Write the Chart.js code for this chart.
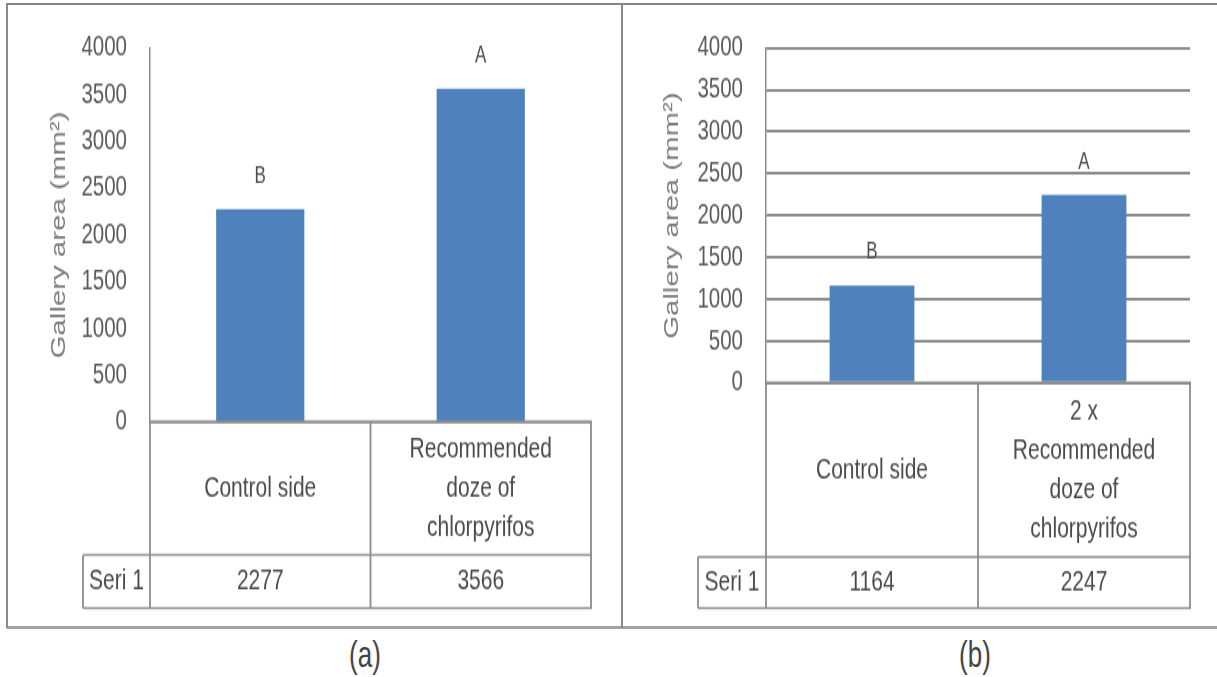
<!DOCTYPE html>
<html><head><meta charset="utf-8">
<script src="https://cdn.jsdelivr.net/npm/chart.js@4.4.1/dist/chart.umd.min.js"></script>
<style>
html,body{margin:0;padding:0;background:#fff;width:1217px;height:677px;overflow:hidden;position:relative}
.ln{position:absolute}
.wrap{position:absolute;top:5px;height:444px;transform:scaleY(1.4009);transform-origin:0 0}
.cap{position:absolute;top:632px;width:60px;text-align:center;font:26px "Liberation Sans",sans-serif;color:#454545;transform:scaleY(1.45);transform-origin:50% 0}
</style></head><body>
<div class="ln" style="left:7px;top:3px;width:1210px;height:2px;background:#858585"></div>
<div class="ln" style="left:7px;top:626px;width:1210px;height:3px;background:#a3a3a3"></div>
<div class="ln" style="left:6px;top:3px;width:2px;height:625px;background:#8a8a8a"></div>
<div class="ln" style="left:621px;top:3px;width:2px;height:625px;background:#8a8a8a"></div>
<div class="wrap" style="left:8px;width:612px"><canvas id="chartA"></canvas></div>
<div class="wrap" style="left:624px;width:593px"><canvas id="chartB"></canvas></div>
<div class="cap" style="left:335px">(a)</div>
<div class="cap" style="left:945px">(b)</div>
<script>
const yTicks=[0,500,1000,1500,2000,2500,3000,3500,4000]
const yTitle='Gallery area (mm²)'
const seriesName='Seri 1'

const catsA=[['Control side'],['Recommended','doze of','chlorpyrifos']]
const valsA=[2277,3566]
const lettersA=['B','A']

const catsB=[['Control side'],['2 x','Recommended','doze of','chlorpyrifos']]
const valsB=[1164,2247]
const lettersB=['B','A']

const FONT='"Liberation Sans", Arial, sans-serif'
const S=622/444
const cy=v=>v/S

const tablePlugin={
  id:'dataTable',
  afterDraw(chart,args,o){
    const ctx=chart.ctx, ca=chart.chartArea, x=chart.scales.x
    const n=chart.data.labels.length, colW=ca.width/n
    const top=ca.bottom, mid=cy(o.catBottom), bot=cy(o.tableBottom)
    ctx.save()
    ctx.strokeStyle='#8c8c8c'
    const line=(x1,y1,x2,y2,w)=>{ctx.lineWidth=w;ctx.beginPath();ctx.moveTo(x1,y1);ctx.lineTo(x2,y2);ctx.stroke()}
    for(let i=0;i<=n;i++){const xx=ca.left+colW*i;line(xx,top,xx,bot,1.8)}
    line(o.seriLeft,mid,o.seriLeft,bot,1.8)
    line(o.seriLeft,mid,ca.right+0.9,mid,1.5)
    line(o.seriLeft,bot,ca.right+0.9,bot,1.5)
    line(ca.left,top,ca.right+0.9,top,2.2)
    ctx.fillStyle='#4a4a4a'
    ctx.font='21px '+FONT
    ctx.textAlign='center'
    ctx.textBaseline='middle'
    const lh=28
    chart.data.labels.forEach((lab,i)=>{
      const cx=x.getPixelForValue(i)
      const y0=(top+mid)/2-(lab.length-1)*lh/2
      lab.forEach((t,k)=>ctx.fillText(t,cx,y0+k*lh))
      ctx.fillText(String(chart.data.datasets[0].data[i]),cx,(mid+bot)/2)
    })
    ctx.fillText(seriesName,(o.seriLeft+ca.left)/2,(mid+bot)/2)
    ctx.restore()
  }
}

const letterPlugin={
  id:'letters',
  afterDatasetsDraw(chart,args,o){
    const ctx=chart.ctx, meta=chart.getDatasetMeta(0)
    ctx.save()
    ctx.fillStyle='#4a4a4a'
    ctx.font='17px '+FONT
    ctx.textAlign='center'
    ctx.textBaseline='middle'
    meta.data.forEach((bar,i)=>ctx.fillText(o.letters[i],bar.x,bar.y-cy(33)))
    ctx.restore()
  }
}

function makeChart(id,cats,vals,letters,lay){
  return new Chart(document.getElementById(id),{
    type:'bar',
    data:{labels:cats,datasets:[{label:seriesName,data:vals,backgroundColor:'#4f81bd',borderWidth:0,barPercentage:0.4,categoryPercentage:1}]},
    plugins:[tablePlugin,letterPlugin],
    options:{
      responsive:true,maintainAspectRatio:false,animation:false,events:[],
      layout:{padding:{left:0,right:lay.padRight,top:cy(lay.top),bottom:cy(622-lay.bottom)}},
      plugins:{legend:{display:false},tooltip:{enabled:false},
        dataTable:{catBottom:lay.catBottom,tableBottom:lay.tableBottom,seriLeft:lay.seriLeft},
        letters:{letters:letters}},
      scales:{
        x:{display:false},
        y:{min:0,max:4000,
          afterBuildTicks:s=>{s.ticks=yTicks.map(v=>({value:v}))},
          afterFit:s=>{s.width=lay.plotLeft},
          ticks:{callback:v=>String(v),padding:0,color:'#5a5a5a',font:{family:FONT,size:20.5}},
          grid:{display:lay.grid,drawTicks:true,tickLength:23,tickColor:'rgba(0,0,0,0)',color:'#8c8c8c',lineWidth:2},
          border:{display:true,color:'#8c8c8c',width:1.5},
          title:{display:true,text:yTitle,color:'#7a7a7a',font:{family:FONT,size:21},padding:{top:lay.titlePad,bottom:0}}
        }
      }
    }
  })
}

makeChart('chartA',catsA,valsA,lettersA,{plotLeft:142,padRight:29,top:43,bottom:417,catBottom:550,tableBottom:603,seriLeft:75,titlePad:39,grid:false})
makeChart('chartB',catsB,valsB,lettersB,{plotLeft:142,padRight:27,top:43,bottom:378,catBottom:552,tableBottom:603,seriLeft:74,titlePad:36,grid:true})
</script>
</body></html>
